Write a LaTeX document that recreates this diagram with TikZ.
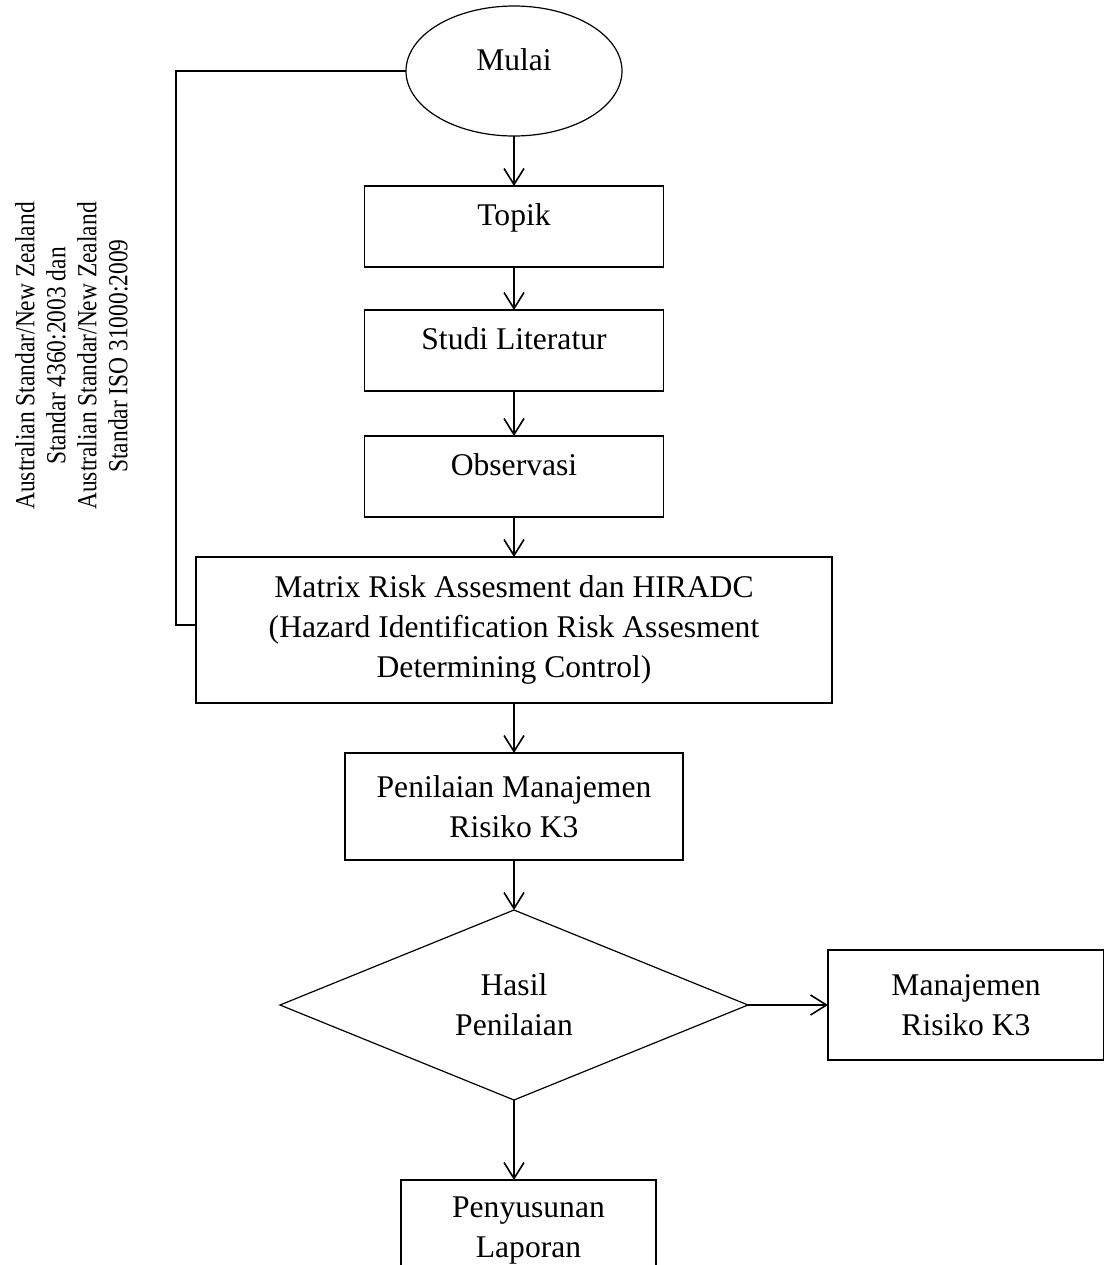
\documentclass[tikz,border=0pt]{standalone}
\usepackage{fontspec}
\setmainfont{Liberation Serif}
\newfontfamily\sidefont[FakeStretch=0.85]{Liberation Serif}
\usepackage{tikz}
\usetikzlibrary{shapes.geometric, arrows.meta, positioning}
\tikzset{
	startstop/.style={ellipse, draw=black, line width=0.6pt, outer sep=0pt, minimum width=108pt, minimum height=65pt, text centered, text height=11pt, text depth=12pt},
	process/.style  ={rectangle, draw=black, line width=0.6pt, outer sep=0pt, align=center, inner sep=0pt},
	onerow/.style   ={process, minimum width=149.5pt, minimum height=40.5pt, text height=11pt, text depth=12pt},
	decision/.style ={diamond, draw=black, line width=0.6pt, outer sep=0pt, aspect=2.44, minimum width=234pt, minimum height=95pt, align=center, inner sep=0pt},
	flowarrow/.style={-{Straight Barb[length=8pt, width=10pt]}, line width=0.8pt},
	backline/.style ={line width=0.8pt},
}

\begin{document}
\begin{tikzpicture}[every node/.style={font=\fontsize{15.8}{20}\selectfont}]
	\useasboundingbox (0,0) rectangle (552pt,-632.5pt);
	\clip (0,0) rectangle (552pt,-632.5pt);
	\node[startstop] (mulai) at (257pt,-35.5pt) {Mulai};
	\node[onerow, below=25pt of mulai] (topik) {Topik};
	\node[onerow, below=21.5pt of topik] (studi) {Studi Literatur};
	\node[onerow, below=22.5pt of studi] (obs) {Observasi};
	\node[process, below=20pt of obs, minimum width=318pt, minimum height=73pt] (matrix)
	{Matrix Risk Assesment dan HIRADC\\(Hazard Identification Risk Assesment\\Determining Control)};
	\node[process, below=25pt of matrix, minimum width=169pt, minimum height=53.5pt] (nilai)
	{Penilaian Manajemen\\Risiko K3};
	\node[decision, below=25pt of nilai] (hasil) {Hasil\\Penilaian};
	\node[process, right=40pt of hasil, minimum width=138pt, minimum height=55pt] (mrisk)
	{Manajemen\\Risiko K3};
	\node[process, below=40pt of hasil, xshift=7.25pt, minimum width=127.5pt, minimum height=51pt] (lapor)
	{Penyusunan\\Laporan};
	% side note on the left
	\node[rotate=90, align=center, font=\sidefont\fontsize{13.8}{15.5}\selectfont] (std) at (35.75pt,-178pt)
	{Australian Standar/New Zealand\\Standar 4360:2003 dan\\Australian Standar/New Zealand\\Standar ISO 31000:2009};
	\draw[flowarrow] (mulai) -- (topik);
	\draw[flowarrow] (topik) -- (studi);
	\draw[flowarrow] (studi) -- (obs);
	\draw[flowarrow] (obs) -- (matrix);
	\draw[flowarrow] (matrix) -- (nilai);
	\draw[flowarrow] (nilai) -- (hasil);
	\draw[flowarrow] (hasil) -- (mrisk);
	\draw[flowarrow] (hasil.south) -- (hasil.south |- lapor.north);
	\draw[backline] (mulai.west) -- ([xshift=-115pt]mulai.west) |- ([yshift=2.5pt]matrix.west);
\end{tikzpicture}
\end{document}
